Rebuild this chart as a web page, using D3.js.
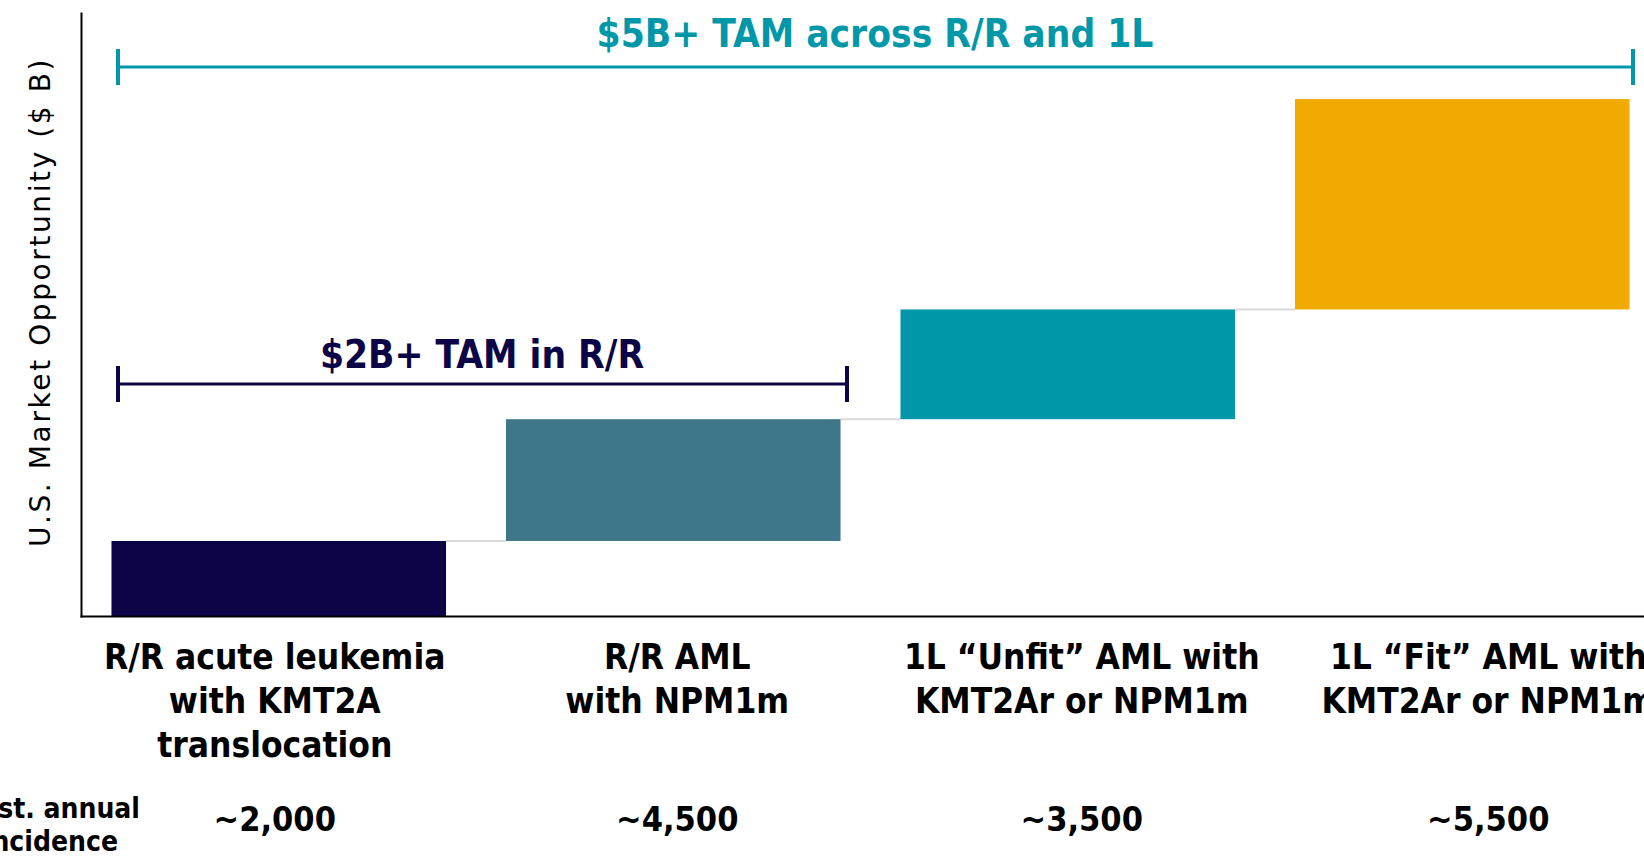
<!DOCTYPE html>
<html>
<head>
<meta charset="utf-8">
<script src="https://cdn.jsdelivr.net/npm/d3@7"></script>
<style>
  body { margin: 0; background: #fff; overflow: hidden; }
  .bold { font-family: "DejaVu Sans Condensed", "DejaVu Sans", sans-serif; font-stretch: condensed; font-weight: bold; }
</style>
</head>
<body>
<div id="vis"></div>
<script>
// data
var categories = ["rr_kmt2a", "rr_npm1", "fl_unfit", "fl_fit"];
var labels = [
  ["R/R acute leukemia", "with KMT2A", "translocation"],
  ["R/R AML", "with NPM1m"],
  ["1L \u201cUnfit\u201d AML with", "KMT2Ar or NPM1m"],
  ["1L \u201cFit\u201d AML with", "KMT2Ar or NPM1m"]
];
var values = [0.75, 1.21, 1.09, 2.09];   // $B increments (estimated)
var incidence = ["~2,000", "~4,500", "~3,500", "~5,500"];
var colors = ["#0b0447", "#3d7789", "#0097a9", "#f0aa00"];

// label text boxes sit a bit off the bar centers in the original
var labelShift = [-4, 4, 14, 26];

var width = 1644, height = 859;

var svg = d3.select("#vis").append("svg")
  .attr("width", width)
  .attr("height", height);

var x = d3.scaleBand()
  .domain(categories)
  .range([81.5, 1659.5])
  .paddingInner(0.152)
  .paddingOuter(0.076);

var y = d3.scaleLinear()
  .domain([0, 6])
  .range([616.5, 12.5]);

function cx(i) { return x(categories[i]) + x.bandwidth() / 2 + labelShift[i]; }

// waterfall start / end
var bars = [];
var run = 0;
for (var i = 0; i < values.length; i++) {
  bars.push({ key: categories[i], start: run, end: run + values[i], color: colors[i] });
  run += values[i];
}

// connectors
svg.selectAll("line.conn")
  .data(bars.slice(0, -1))
  .enter()
  .append("line")
  .attr("class", "conn")
  .attr("x1", function(d) { return x(d.key) + x.bandwidth(); })
  .attr("x2", function(d, i) { return x(categories[i + 1]); })
  .attr("y1", function(d) { return y(d.end); })
  .attr("y2", function(d) { return y(d.end); })
  .attr("stroke", "#d9d9d9")
  .attr("stroke-width", 2);

svg.selectAll("rect")
  .data(bars)
  .enter()
  .append("rect")
  .attr("x", function(d) { return x(d.key); })
  .attr("y", function(d) { return y(d.end); })
  .attr("width", x.bandwidth())
  .attr("height", function(d) { return y(d.start) - y(d.end); })
  .attr("fill", function(d) { return d.color; });

// axes (no ticks)
svg.append("line")
  .attr("x1", 81.5).attr("x2", 81.5)
  .attr("y1", y(6)).attr("y2", y(0) + 1)
  .attr("stroke", "#000").attr("stroke-width", 2);
svg.append("line")
  .attr("x1", 80.5).attr("x2", width)
  .attr("y1", y(0)).attr("y2", y(0))
  .attr("stroke", "#000").attr("stroke-width", 2);

svg.append("text")
  .attr("transform", "translate(50," + 302 + ") rotate(-90)")
  .attr("text-anchor", "middle")
  .style("font-family", "'DejaVu Sans', sans-serif")
  .style("font-size", "28px")
  .style("letter-spacing", "2.6px")
  .attr("fill", "#000")
  .text("U.S. Market Opportunity ($ B)");

// brackets
function bracket(x1, x2, yy, color, label, labelX, labelY) {
  svg.append("line")
    .attr("x1", x1).attr("x2", x2).attr("y1", yy).attr("y2", yy)
    .attr("stroke", color).attr("stroke-width", 3);
  svg.append("line")
    .attr("x1", x1).attr("x2", x1).attr("y1", yy - 18).attr("y2", yy + 18)
    .attr("stroke", color).attr("stroke-width", 4);
  svg.append("line")
    .attr("x1", x2).attr("x2", x2).attr("y1", yy - 18).attr("y2", yy + 18)
    .attr("stroke", color).attr("stroke-width", 4);
  svg.append("text")
    .attr("class", "bold")
    .attr("x", labelX).attr("y", labelY)
    .attr("text-anchor", "middle")
    .style("font-size", "38.5px")
    .attr("fill", color)
    .text(label);
}
bracket(118, 1633, 67, "#0097a9", "$5B+ TAM across R/R and 1L", 875, 47);
bracket(118, 847, 384, "#0b0447", "$2B+ TAM in R/R", 482, 368);

// category labels
var lab = svg.selectAll("text.cat")
  .data(labels)
  .enter()
  .append("text")
  .attr("class", "cat bold")
  .attr("text-anchor", "middle")
  .style("font-size", "35px")
  .attr("fill", "#000");
lab.selectAll("tspan")
  .data(function(d, i) { return d.map(function(t) { return { t: t, i: i }; }); })
  .enter()
  .append("tspan")
  .attr("x", function(d) { return cx(d.i); })
  .attr("y", function(d, j) { return 669 + j * 44; })
  .text(function(d) { return d.t; });

// incidence row
svg.selectAll("text.inc")
  .data(incidence)
  .enter()
  .append("text")
  .attr("class", "inc bold")
  .attr("x", function(d, i) { return cx(i); })
  .attr("y", 831)
  .attr("text-anchor", "middle")
  .style("font-size", "34px")
  .attr("fill", "#000")
  .text(function(d) { return d; });

var est = svg.append("text")
  .attr("class", "bold")
  .attr("text-anchor", "end")
  .style("font-size", "28px")
  .attr("fill", "#000");
est.append("tspan").attr("x", 140).attr("y", 818).text("Est. annual");
est.append("tspan").attr("x", 118).attr("y", 851).text("incidence");
</script>
</body>
</html>
